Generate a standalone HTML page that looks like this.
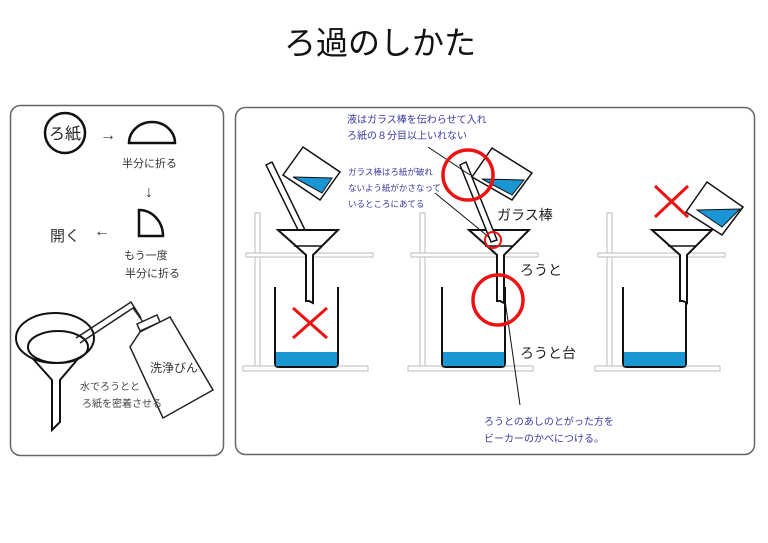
<!DOCTYPE html>
<html><head><meta charset="utf-8"><style>
body{margin:0;background:#fff;}
svg{display:block;font-family:"Liberation Sans","Noto Sans CJK JP",sans-serif;}
</style></head><body>
<svg width="768" height="543" viewBox="0 0 768 543">
<text x="380" y="54" font-size="32" text-anchor="middle" fill="#111">ろ過のしかた</text>
<rect x="10.5" y="105.5" width="213" height="350" rx="10" fill="none" stroke="#666" stroke-width="1.5"/>
<rect x="235.5" y="107.5" width="519" height="347" rx="10" fill="none" stroke="#666" stroke-width="1.5"/>

<!-- left panel -->
<circle cx="65" cy="133" r="20" fill="none" stroke="#111" stroke-width="2.5"/>
<text x="65" y="139" font-size="16" text-anchor="middle" fill="#222">ろ紙</text>
<text x="100" y="140" font-size="16" fill="#333">→</text>
<path d="M129 143 A23 21 0 0 1 175 143 Z" fill="none" stroke="#111" stroke-width="2.5"/>
<text x="122" y="167" font-size="11" fill="#333">半分に折る</text>
<text x="145" y="197" font-size="16" fill="#333">↓</text>
<path d="M139 210 L139 236 L163 236 A24 26 0 0 0 139 210 Z" fill="none" stroke="#111" stroke-width="2.5"/>
<text x="50" y="241" font-size="15" fill="#333">開く</text>
<text x="94" y="236" font-size="16" fill="#333">←</text>
<text x="124" y="259" font-size="11" fill="#333">もう一度</text>
<text x="125" y="277" font-size="11" fill="#333">半分に折る</text>
<!-- funnel -->
<g fill="none" stroke="#111" stroke-width="2">
<path d="M16 340 L52 380 L52 430 L60 422 L60 380 L94 340"/>
<ellipse cx="55" cy="338" rx="39" ry="25" fill="#fff"/>
<ellipse cx="58" cy="347" rx="30" ry="16"/>
</g>
<!-- wash bottle -->
<g fill="none" stroke="#222" stroke-width="1.5">
<path d="M76 338 L131 302 L141 318 M80 343 L133 308 L143 322"/>
<path d="M137 324 L157 315 L160 322 L140 331 Z" fill="#fff"/>
<polygon points="130,347 140,332 160,322 170,317 213,390 163,418" fill="#fff"/>
</g>
<text x="150" y="372" font-size="12" fill="#333">洗浄びん</text>
<text x="80" y="390" font-size="10" fill="#444">水でろうとと</text>
<text x="82" y="407" font-size="10" fill="#444">ろ紙を密着させる</text>

<defs>
<g id="stand">
<rect x="-53" y="0" width="5" height="157" fill="#fff" stroke="#bbb"/>
<rect x="-65" y="153" width="125" height="5" fill="#fff" stroke="#bbb"/>
<rect x="-62" y="40" width="127" height="4" fill="#fff" stroke="#bbb"/>
</g>
<g id="funnel">
<path d="M-30 17 L30 17 L5 42 L5 90 L1 88 L-2 88 L-2 42 Z" fill="#fff" stroke="#111" stroke-width="2"/>
<path d="M-14 33 L14 33" stroke="#111" stroke-width="1.5"/>
</g>
<g id="beaker">
<path d="M0 0 L0 76 Q0 80 4 80 L59 80 Q63 80 63 76 L63 0" fill="none" stroke="#111" stroke-width="2"/>
<rect x="1" y="65" width="61" height="14" fill="#1a96d4"/>
</g>
</defs>

<!-- scene 1 -->
<g transform="translate(308,213)"><use href="#stand"/></g>
<g transform="translate(275,287)"><use href="#beaker"/></g>
<path d="M266 165 L272 162 L306 232 L300 234 Z" fill="#fff" stroke="#111" stroke-width="1.5"/>
<g transform="translate(308,213)"><use href="#funnel"/></g>
<polygon points="283,175 303,147 340,172 320,200" fill="#fff" stroke="#111" stroke-width="1.5"/>
<polygon points="293,177 332,178 322,193" fill="#1a96d4" stroke="#111"/>
<path d="M293 308 L327 338 M327 308 L293 338" stroke="#e11" stroke-width="3"/>

<!-- scene 2 -->
<g transform="translate(473,213)"><use href="#stand"/></g>
<g transform="translate(442,287)"><use href="#beaker"/></g>
<g transform="translate(499,213)"><use href="#funnel"/></g>
<path d="M460 165 L466 162 L497 240 L491 242 Z" fill="#fff" stroke="#111" stroke-width="1.5"/>
<polygon points="472,177 492,148 532,173 512,200" fill="#fff" stroke="#111" stroke-width="1.5"/>
<polygon points="482,179 524,180 512,195" fill="#1a96d4" stroke="#111"/>
<g fill="none" stroke="#111" stroke-width="1">
<path d="M428 147 L470 175"/>
<path d="M435 193 L490 238"/>
<path d="M505 300 L520 405"/>
</g>
<g fill="none" stroke="#e11" stroke-width="3.5">
<circle cx="468" cy="175" r="25"/>
<circle cx="493" cy="240" r="8" stroke-width="2"/>
<circle cx="498" cy="300" r="25"/>
</g>
<text x="347" y="123" font-size="10" fill="#3a3aa0">液はガラス棒を伝わらせて入れ</text>
<text x="347" y="139" font-size="10" fill="#3a3aa0">ろ紙の８分目以上いれない</text>
<text x="348" y="175" font-size="8.5" fill="#3a3aa0">ガラス棒はろ紙が破れ</text>
<text x="348" y="191" font-size="8.5" fill="#3a3aa0">ないよう紙がかさなって</text>
<text x="348" y="207" font-size="8.5" fill="#3a3aa0">いるところにあてる</text>
<text x="497" y="220" font-size="14" fill="#222">ガラス棒</text>
<text x="520" y="275" font-size="14" fill="#222">ろうと</text>
<text x="520" y="358" font-size="14" fill="#222">ろうと台</text>
<text x="484" y="425" font-size="10" fill="#3a3aa0">ろうとのあしのとがった方を</text>
<text x="484" y="442" font-size="10" fill="#3a3aa0">ビーカーのかべにつける。</text>

<!-- scene 3 -->
<g transform="translate(660,213)"><use href="#stand"/></g>
<g transform="translate(623,287)"><use href="#beaker"/></g>
<g transform="translate(682,213)"><use href="#funnel"/></g>
<polygon points="686,212 707,182 743,207 722,235" fill="#fff" stroke="#111" stroke-width="1.5"/>
<polygon points="697,210 740,209 722,227" fill="#1a96d4" stroke="#111"/>
<path d="M655 186 L688 217 M688 186 L655 217" stroke="#e11" stroke-width="3"/>
</svg>
</body></html>
